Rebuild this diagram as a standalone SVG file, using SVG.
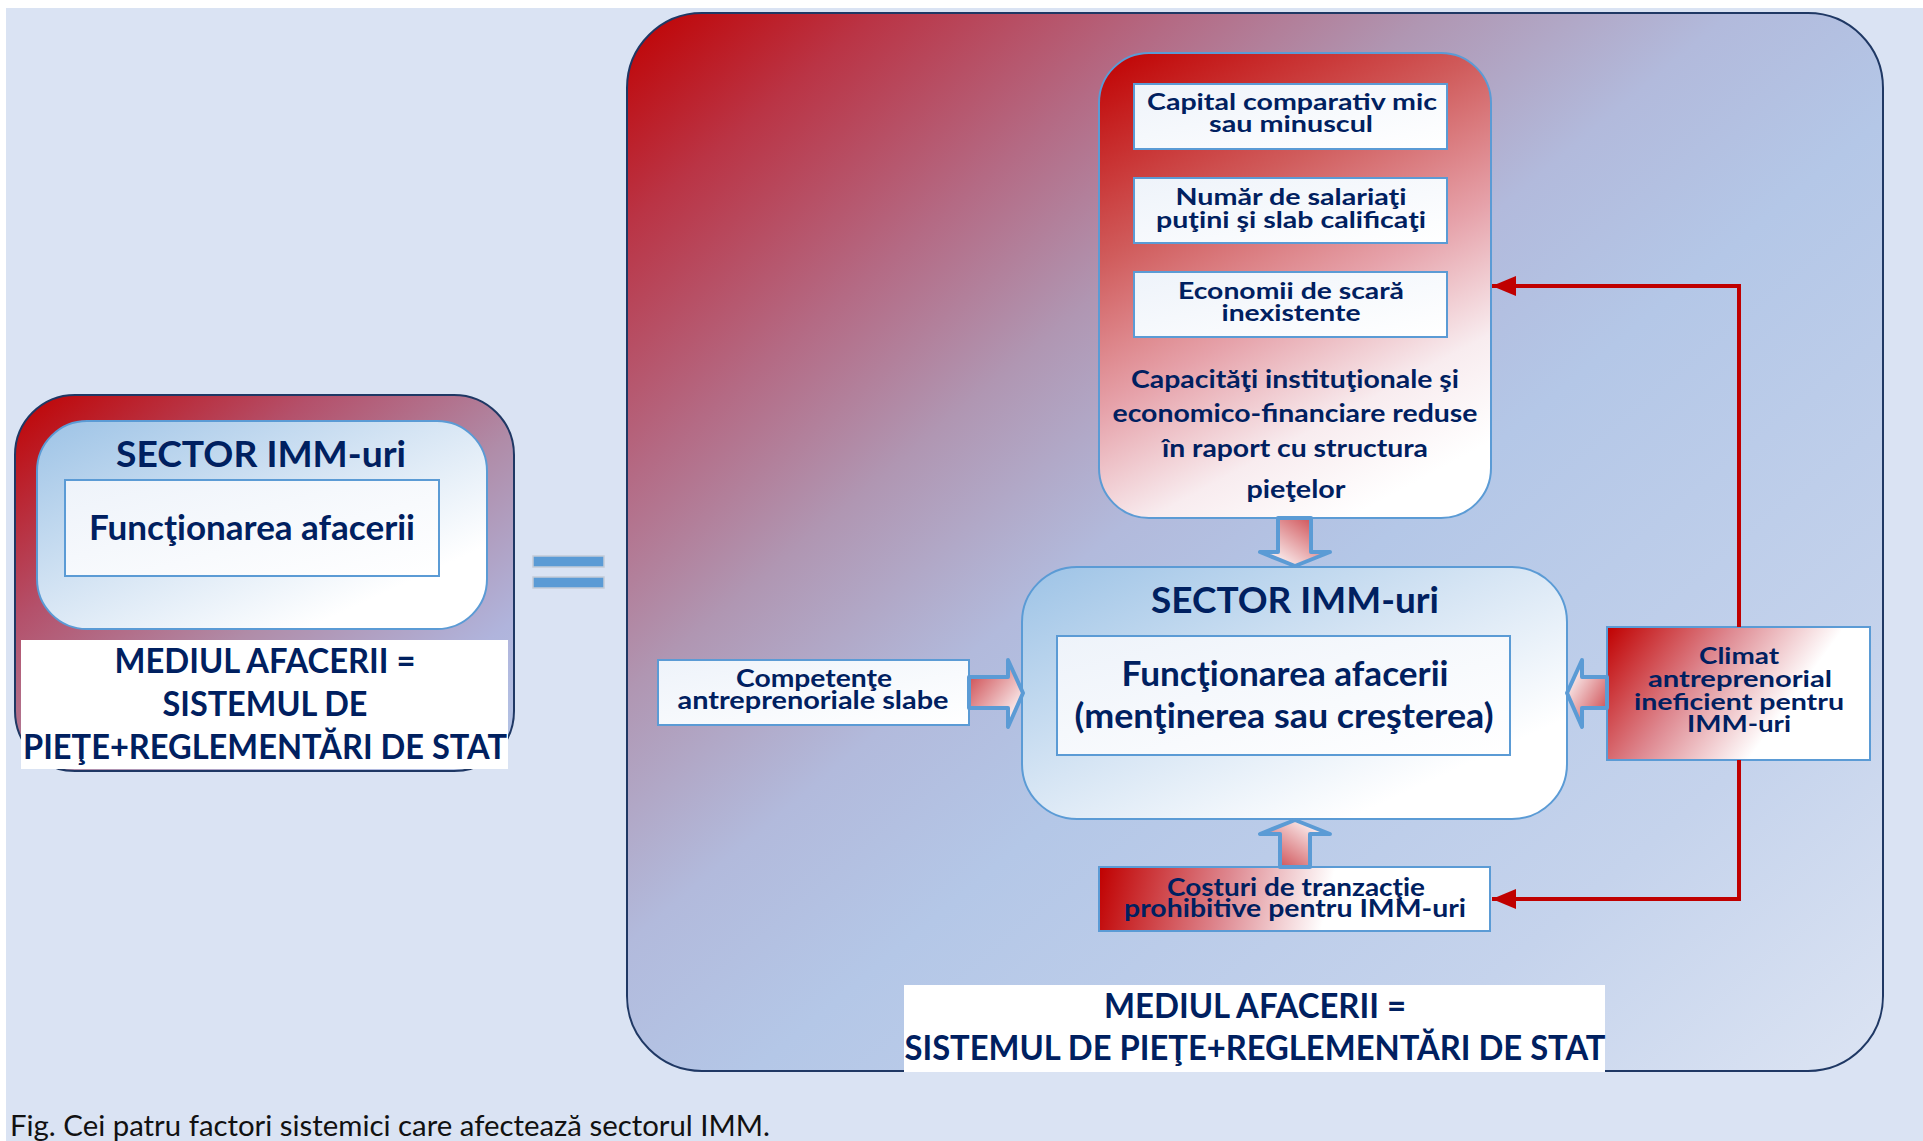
<svg xmlns="http://www.w3.org/2000/svg" width="1923" height="1141" viewBox="0 0 1923 1141">
<defs>
<style>
.t{font-family:Lato,"Open Sans","Liberation Sans",sans-serif;font-weight:bold;fill:#002060;text-anchor:middle}
.cap{font-family:Lato,"Open Sans","Liberation Sans",sans-serif;font-weight:normal;fill:#111}
.bl{stroke:#5B9BD5;stroke-width:2}
.nav{stroke:#1F3864;stroke-width:2}
.ar{stroke:#5B9BD5;stroke-width:4;stroke-linejoin:round}
.red{fill:none;stroke:#C00000;stroke-width:4}
</style>
<linearGradient id="gBig" x1="0" y1="0" x2="1" y2="1">
<stop offset="0" stop-color="#C00000"/>
<stop offset="0.1" stop-color="#BA3445"/>
<stop offset="0.22" stop-color="#B46A84"/>
<stop offset="0.32" stop-color="#B096B2"/>
<stop offset="0.44" stop-color="#B2BADC"/>
<stop offset="0.55" stop-color="#B4C7E7"/>
<stop offset="0.8" stop-color="#C5D3EC"/>
<stop offset="1" stop-color="#DCE4F3"/>
</linearGradient>
<linearGradient id="gLeft" x1="0" y1="0" x2="1" y2="1">
<stop offset="0" stop-color="#C00000"/>
<stop offset="0.3" stop-color="#B4506A"/>
<stop offset="0.55" stop-color="#B08CA8"/>
<stop offset="0.8" stop-color="#B0B4DC"/>
<stop offset="1" stop-color="#B4C7E7"/>
</linearGradient>
<linearGradient id="gSector" x1="0" y1="0" x2="1" y2="1">
<stop offset="0" stop-color="#9DC3E6"/>
<stop offset="0.45" stop-color="#D6E5F4"/>
<stop offset="0.8" stop-color="#FFFFFF"/>
</linearGradient>
<linearGradient id="gWhite" x1="0" y1="0" x2="1" y2="1">
<stop offset="0" stop-color="#EEF3FA"/>
<stop offset="1" stop-color="#FFFFFF"/>
</linearGradient>
<linearGradient id="gPink" gradientUnits="userSpaceOnUse" x1="1099" y1="53" x2="1350" y2="518">
<stop offset="0" stop-color="#C00000"/>
<stop offset="0.35" stop-color="#D05C5C"/>
<stop offset="0.6" stop-color="#E6A2AA"/>
<stop offset="0.82" stop-color="#F8ECEF"/>
<stop offset="1" stop-color="#FFFFFF"/>
</linearGradient>
<linearGradient id="gCost" gradientUnits="userSpaceOnUse" x1="1099" y1="867" x2="1380" y2="931">
<stop offset="0" stop-color="#C00000"/>
<stop offset="0.45" stop-color="#DE8890"/>
<stop offset="0.8" stop-color="#FFFFFF"/>
</linearGradient>
<linearGradient id="gClimat" gradientUnits="userSpaceOnUse" x1="1607" y1="627" x2="1790" y2="760">
<stop offset="0" stop-color="#C00000"/>
<stop offset="0.45" stop-color="#DE8890"/>
<stop offset="0.85" stop-color="#FFFFFF"/>
</linearGradient>
<linearGradient id="gArD" x1="1" y1="0" x2="0" y2="1">
<stop offset="0" stop-color="#C8363C"/>
<stop offset="0.9" stop-color="#FFFFFF"/>
</linearGradient>
<linearGradient id="gArU" x1="0" y1="1" x2="1" y2="0">
<stop offset="0" stop-color="#C8363C"/>
<stop offset="0.9" stop-color="#FFFFFF"/>
</linearGradient>
<linearGradient id="gArR" x1="0" y1="0" x2="1" y2="1">
<stop offset="0" stop-color="#C8363C"/>
<stop offset="0.9" stop-color="#FFFFFF"/>
</linearGradient>
<linearGradient id="gArL" x1="1" y1="1" x2="0" y2="0">
<stop offset="0" stop-color="#C8363C"/>
<stop offset="0.9" stop-color="#FFFFFF"/>
</linearGradient>
<marker id="mRed" markerUnits="userSpaceOnUse" markerWidth="24" markerHeight="20" refX="24" refY="10" orient="auto">
<path d="M0,0 L24,10 L0,20 z" fill="#C00000"/>
</marker>
</defs>

<rect x="0" y="0" width="1923" height="1141" fill="#FFFFFF"/>
<rect x="6" y="8" width="1917" height="1133" fill="#DAE3F3"/>

<g id="left-env">
<rect x="15" y="395" width="499" height="376" rx="60" fill="url(#gLeft)" class="nav"/>
</g>
<g id="left-sector">
<rect x="37" y="421" width="450" height="208" rx="50" fill="url(#gSector)" class="bl"/>
<text class="t" x="261" y="467" font-size="37" textLength="290" lengthAdjust="spacingAndGlyphs">SECTOR IMM-uri</text>
</g>
<g id="left-func">
<rect x="65" y="480" width="374" height="96" fill="url(#gWhite)" class="bl"/>
<text class="t" x="252" y="540" font-size="33.5" textLength="326" lengthAdjust="spacingAndGlyphs">Funcţionarea afacerii</text>
</g>
<g id="left-mediul">
<rect x="21" y="640" width="487" height="129" fill="#FFFFFF"/>
<text class="t" x="265" y="673" font-size="33.5" textLength="301" lengthAdjust="spacingAndGlyphs">MEDIUL AFACERII =</text>
<text class="t" x="265" y="716" font-size="33.5" textLength="205" lengthAdjust="spacingAndGlyphs">SISTEMUL DE</text>
<text class="t" x="265" y="759" font-size="33.5" textLength="484" lengthAdjust="spacingAndGlyphs">PIEŢE+REGLEMENTĂRI DE STAT</text>
</g>

<g id="equals">
<rect x="533" y="556" width="71" height="11" fill="#5B9BD5" stroke="#C3CCD8" stroke-width="1.5"/>
<rect x="533" y="577" width="71" height="11" fill="#5B9BD5" stroke="#C3CCD8" stroke-width="1.5"/>
</g>

<g id="env">
<rect x="627" y="13" width="1256" height="1058" rx="75" fill="url(#gBig)" class="nav"/>
</g>

<g id="capacitati">
<rect x="1099" y="53" width="392" height="465" rx="50" fill="url(#gPink)" class="bl"/>
<text class="t" x="1295" y="388" font-size="25" textLength="328" lengthAdjust="spacingAndGlyphs">Capacităţi instituţionale şi</text>
<text class="t" x="1295" y="422" font-size="25" textLength="365" lengthAdjust="spacingAndGlyphs">economico-financiare reduse</text>
<text class="t" x="1295" y="457" font-size="25" textLength="266" lengthAdjust="spacingAndGlyphs">în raport cu structura</text>
<text class="t" x="1296" y="498" font-size="25" textLength="99" lengthAdjust="spacingAndGlyphs">pieţelor</text>
</g>
<g id="capital">
<rect x="1134" y="84" width="313" height="65" fill="url(#gWhite)" class="bl"/>
<text class="t" x="1292" y="110" font-size="23" textLength="290" lengthAdjust="spacingAndGlyphs">Capital comparativ mic</text>
<text class="t" x="1291" y="132" font-size="23" textLength="164" lengthAdjust="spacingAndGlyphs">sau minuscul</text>
</g>
<g id="salariati">
<rect x="1134" y="178" width="313" height="65" fill="url(#gWhite)" class="bl"/>
<text class="t" x="1291" y="205" font-size="23" textLength="231" lengthAdjust="spacingAndGlyphs">Număr de salariaţi</text>
<text class="t" x="1291" y="228" font-size="23" textLength="270" lengthAdjust="spacingAndGlyphs">puţini şi slab calificaţi</text>
</g>
<g id="economii">
<rect x="1134" y="272" width="313" height="65" fill="url(#gWhite)" class="bl"/>
<text class="t" x="1291" y="299" font-size="23" textLength="226" lengthAdjust="spacingAndGlyphs">Economii de scară</text>
<text class="t" x="1291" y="321" font-size="23" textLength="139" lengthAdjust="spacingAndGlyphs">inexistente</text>
</g>

<g id="sector">
<rect x="1022" y="567" width="545" height="252" rx="55" fill="url(#gSector)" class="bl"/>
<text class="t" x="1295" y="613" font-size="37" textLength="288" lengthAdjust="spacingAndGlyphs">SECTOR IMM-uri</text>
<rect x="1057" y="636" width="453" height="119" fill="url(#gWhite)" class="bl"/>
<text class="t" x="1285" y="686" font-size="33.5" textLength="327" lengthAdjust="spacingAndGlyphs">Funcţionarea afacerii</text>
<text class="t" x="1284" y="728" font-size="33.5" textLength="419" lengthAdjust="spacingAndGlyphs">(menţinerea sau creşterea)</text>
</g>

<g id="competente">
<rect x="658" y="660" width="311" height="65" fill="url(#gWhite)" class="bl"/>
<text class="t" x="814" y="687" font-size="25" textLength="156" lengthAdjust="spacingAndGlyphs">Competenţe</text>
<text class="t" x="813" y="709" font-size="25" textLength="271" lengthAdjust="spacingAndGlyphs">antreprenoriale slabe</text>
</g>

<g id="climat">
<rect x="1607" y="627" width="263" height="133" fill="url(#gClimat)" class="bl"/>
<text class="t" x="1739" y="664" font-size="23" textLength="80" lengthAdjust="spacingAndGlyphs">Climat</text>
<text class="t" x="1740" y="687" font-size="23" textLength="184" lengthAdjust="spacingAndGlyphs">antreprenorial</text>
<text class="t" x="1739" y="710" font-size="23" textLength="210" lengthAdjust="spacingAndGlyphs">ineficient pentru</text>
<text class="t" x="1739" y="732" font-size="23" textLength="104" lengthAdjust="spacingAndGlyphs">IMM-uri</text>
</g>

<g id="costuri">
<rect x="1099" y="867" width="391" height="64" fill="url(#gCost)" class="bl"/>
<text class="t" x="1296" y="896" font-size="24" textLength="258" lengthAdjust="spacingAndGlyphs">Costuri de tranzacţie</text>
<text class="t" x="1295" y="917" font-size="24" textLength="342" lengthAdjust="spacingAndGlyphs">prohibitive pentru IMM-uri</text>
</g>

<g id="mediul">
<rect x="904" y="985" width="701" height="87" fill="#FFFFFF"/>
<text class="t" x="1255" y="1018" font-size="33.5" textLength="302" lengthAdjust="spacingAndGlyphs">MEDIUL AFACERII =</text>
<text class="t" x="1255" y="1060" font-size="33.5" textLength="701" lengthAdjust="spacingAndGlyphs">SISTEMUL DE PIEŢE+REGLEMENTĂRI DE STAT</text>
</g>

<g id="connectors">
<polygon class="ar" fill="url(#gArD)" points="1278,518 1311,518 1311,552 1330,552 1295,566 1260,552 1278,552"/>
<polygon class="ar" fill="url(#gArU)" points="1280,867 1310,867 1310,834 1330,834 1295,820 1260,834 1280,834"/>
<polygon class="ar" fill="url(#gArR)" points="969,677 1008,677 1008,660 1023,693 1008,727 1008,708 969,708"/>
<polygon class="ar" fill="url(#gArL)" points="1607,677 1582,677 1582,660 1567,693 1582,727 1582,708 1607,708"/>
<polyline class="red" points="1739,627 1739,286 1492,286" marker-end="url(#mRed)"/>
<polyline class="red" points="1739,760 1739,899 1492,899" marker-end="url(#mRed)"/>
</g>

<text class="cap" x="10" y="1136" font-size="28.5" textLength="760" lengthAdjust="spacingAndGlyphs">Fig. Cei patru factori sistemici care afectează sectorul IMM.</text>
</svg>
